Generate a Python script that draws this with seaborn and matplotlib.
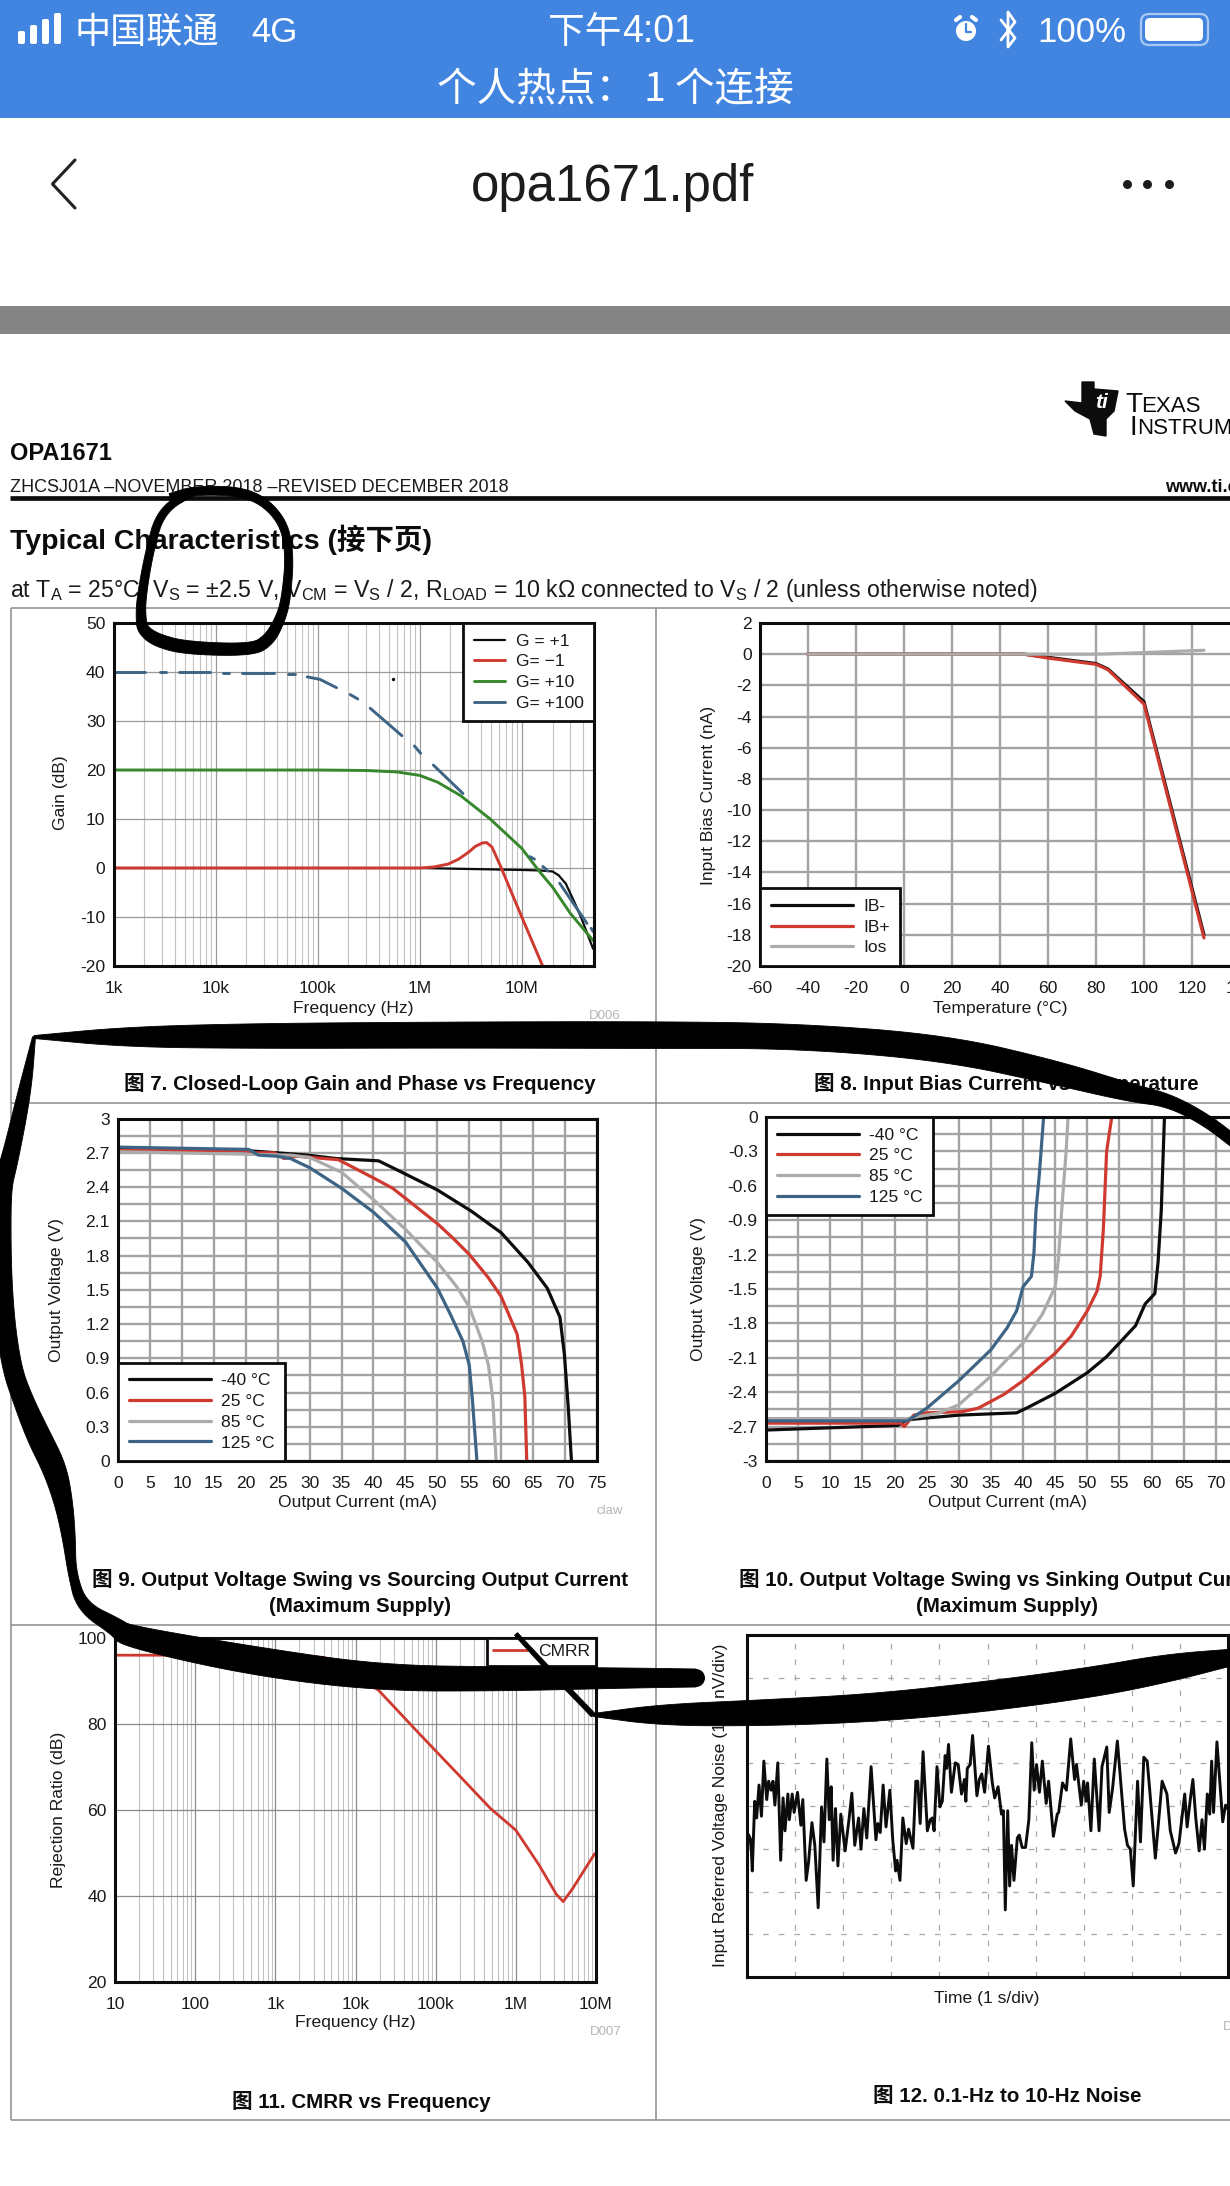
import numpy as np
import pandas as pd
import matplotlib
matplotlib.use("Agg")
import matplotlib.pyplot as plt
from matplotlib.patches import Circle, FancyBboxPatch, Rectangle
import seaborn as sns

# ---------- data: fig 7 ----------
F7_G1_F = [1e3, 1e4, 1e5, 1e6, 3e6, 1e7, 1.5e7, 2e7, 2.3e7, 2.7e7, 3.2e7, 3.8e7, 4.4e7, 5e7]
F7_G1_V = [0, 0, 0, 0, -0.2, -0.4, -0.5, -0.7, -1.5, -3.2, -6.5, -10, -13.5, -16.5]
F7_GM1_F = [1e3, 1e4, 1e5, 1e6, 1.36e6, 1.9e6, 2.4e6, 3e6, 3.5e6, 4.1e6, 4.5e6, 5.1e6, 6.3e6, 8e6, 1e7, 1.6e7]
F7_GM1_V = [0, 0, 0, 0, 0.2, 0.8, 1.8, 3.2, 4.4, 5.1, 5.2, 4.3, 0, -5.2, -10, -20]
F7_G10_F = [1e3, 1e4, 1e5, 3e5, 6e5, 1e6, 1.5e6, 2.5e6, 4.9e6, 1e7, 1.5e7, 2e7, 3e7, 5e7]
F7_G10_V = [20, 20, 20, 19.9, 19.6, 18.9, 17.5, 14.8, 10, 4, -0.8, -3.9, -9.3, -14.8]
F7_G100_F = [1e3, 2.04e3, 2.84e3, 3.27e3, 4.36e3, 8.88e3, 1.18e4, 1.36e4, 1.81e4, 3.69e4, 5.14e4, 5.93e4,
             7.89e4, 1.05e5, 1.53e5, 2.08e5, 2.47e5, 3.27e5, 6.68e5, 8.88e5, 1.02e6, 1.36e6, 2.65e6,
             1.21e7, 1.33e7, 1.61e7, 1.8e7, 2.35e7, 4.35e7, 4.79e7, 5e7]
F7_G100_V = [40, 40, 39.9, 39.9, 39.9, 39.9, 39.8, 39.8, 39.8, 39.8, 39.5, 39.5,
             39.0, 38.5, 36.8, 35.4, 34.5, 32.6, 27, 24.9, 23.4, 21, 15.2,
             2.3, 1.8, 0.3, -0.6, -3.1, -11.3, -12.3, -13]
F7_G100_SEG = [0, 0, 1, 1, 2, 2, 3, 3, 4, 4, 5, 5,
               6, 6, 6, 7, 7, 8, 8, 9, 9, 10, 10,
               11, 11, 12, 12, 13, 13, 14, 14]
F7_LABELS = ["G = +1", "G= \u22121", "G= +10", "G= +100"]
F7_XT = [1e3, 1e4, 1e5, 1e6, 1e7]
F7_XL = ["1k", "10k", "100k", "1M", "10M"]
F7_YT = [-20, -10, 0, 10, 20, 30, 40, 50]
F7_DOT_F = [5.5e5]
F7_DOT_V = [38.5]

# ---------- data: fig 8 ----------
F8_T = [-40, 0, 50, 60, 80, 85, 100, 125]
F8_IBN = [0, 0, 0, -0.2, -0.6, -0.95, -3.05, -18]
F8_IBP = [0, 0, 0, -0.25, -0.65, -1.0, -3.2, -18.2]
F8_IOS = [0, 0, 0, 0, 0, 0.02, 0.1, 0.25]
F8_LABELS = ["IB-", "IB+", "Ios"]
F8_XT = [-60, -40, -20, 0, 20, 40, 60, 80, 100, 120, 140]
F8_YT = [2, 0, -2, -4, -6, -8, -10, -12, -14, -16, -18, -20]

# ---------- data: fig 9 ----------
F9_M40_I = [0, 20, 25, 29.6, 34.2, 40.8, 43.5, 50, 55.3, 60, 64.2, 67.2, 69.2, 69.9, 70.5, 71]
F9_M40_V = [2.74, 2.72, 2.70, 2.68, 2.65, 2.63, 2.556, 2.375, 2.19, 2.0, 1.74, 1.515, 1.26, 0.93, 0.47, 0]
F9_25_I = [0, 20, 21, 24.5, 26, 28, 34.5, 40, 43, 45.5, 50, 52.5, 55, 58, 60, 62.5, 63.2, 63.7, 64]
F9_25_V = [2.72, 2.72, 2.70, 2.70, 2.65, 2.67, 2.64, 2.48, 2.39, 2.28, 2.08, 1.95, 1.81, 1.605, 1.44, 1.11, 0.84, 0.565, 0]
F9_85_I = [0, 27, 30, 35, 40, 45, 50, 53, 55, 57, 58, 58.7, 59.2]
F9_85_V = [2.71, 2.68, 2.66, 2.53, 2.29, 2.03, 1.74, 1.53, 1.35, 1.05, 0.84, 0.53, 0]
F9_125_I = [0, 20.5, 22, 25, 27, 30, 35, 40, 45, 50, 52, 54, 55, 55.5, 56.2]
F9_125_V = [2.75, 2.73, 2.68, 2.67, 2.65, 2.57, 2.39, 2.18, 1.92, 1.515, 1.29, 1.05, 0.84, 0.53, 0]
TEMP_LABELS = ["-40 \u00b0C", "25 \u00b0C", "85 \u00b0C", "125 \u00b0C"]
F9_XT = list(range(0, 80, 5))
F9_YT = [0, 0.3, 0.6, 0.9, 1.2, 1.5, 1.8, 2.1, 2.4, 2.7, 3]
F9_YL = ["0", "0.3", "0.6", "0.9", "1.2", "1.5", "1.8", "2.1", "2.4", "2.7", "3"]
F9_YM = [0.15, 0.45, 0.75, 1.05, 1.35, 1.65, 1.95, 2.25, 2.55, 2.85]

# ---------- data: fig 10 ----------
F10_M40_I = [0, 20.5, 22, 30, 39, 40.5, 45, 50, 53, 55, 57.5, 59, 60.5, 61, 61.5, 62]
F10_M40_V = [-2.73, -2.69, -2.64, -2.6, -2.58, -2.54, -2.41, -2.23, -2.09, -1.97, -1.82, -1.63, -1.54, -1.27, -0.82, 0]
F10_25_I = [0, 21, 21.5, 23, 25, 30.5, 33, 37, 40, 45, 47.5, 50, 51.5, 52, 52.5, 53, 53.8]
F10_25_V = [-2.67, -2.67, -2.70, -2.6, -2.58, -2.57, -2.54, -2.42, -2.3, -2.06, -1.91, -1.69, -1.52, -1.39, -0.97, -0.3, 0]
F10_85_I = [0, 22, 27, 30, 35, 40, 43, 45, 45.5, 46, 46.7, 47]
F10_85_V = [-2.63, -2.63, -2.58, -2.51, -2.26, -1.97, -1.72, -1.48, -1.24, -0.82, -0.3, 0]
F10_125_I = [0, 22, 25, 30, 35, 37.5, 39, 40, 41.3, 41.7, 42, 42.5, 43.2]
F10_125_V = [-2.65, -2.65, -2.54, -2.3, -2.03, -1.84, -1.69, -1.48, -1.39, -1.18, -0.82, -0.52, 0]
F10_YT = [0, -0.3, -0.6, -0.9, -1.2, -1.5, -1.8, -2.1, -2.4, -2.7, -3]
F10_YL = ["0", "-0.3", "-0.6", "-0.9", "-1.2", "-1.5", "-1.8", "-2.1", "-2.4", "-2.7", "-3"]
F10_YM = [-0.15, -0.45, -0.75, -1.05, -1.35, -1.65, -1.95, -2.25, -2.55, -2.85]

# ---------- data: fig 11 ----------
F11_F = [10, 100, 1e3, 4e3, 8e3, 1.95e4, 6.5e4, 1.95e5, 4.8e5, 1e6, 1.95e6, 3.2e6, 3.9e6, 5.1e6, 9.6e6, 1e7]
F11_R = [96, 96, 96, 95.5, 93, 87.8, 77.4, 68.1, 60.4, 55.3, 47.2, 40.4, 38.7, 41.7, 49.8, 50]
F11_XT = [10, 100, 1e3, 1e4, 1e5, 1e6, 1e7]
F11_XL = ["10", "100", "1k", "10k", "100k", "1M", "10M"]
F11_YT = [20, 40, 60, 80, 100]

# ---------- data: fig 12 ----------
F12_T = [0.00,0.03,0.08,0.11,0.16,0.20,0.25,0.30,0.35,0.41,0.45,0.50,0.54,0.58,0.64,0.70,0.75,0.79,0.85,0.88,
         0.94,0.98,1.05,1.12,1.16,1.23,1.28,1.35,1.41,1.48,1.55,1.60,1.66,1.71,1.75,1.79,1.84,1.89,1.95,2.04,
         2.12,2.18,2.24,2.32,2.37,2.43,2.49,2.58,2.68,2.72,2.77,2.83,2.89,2.97,3.03,3.09,3.12,3.18,3.24,3.31,
         3.36,3.45,3.51,3.55,3.60,3.66,3.75,3.81,3.85,3.89,3.95,4.01,4.06,4.12,4.15,4.19,4.25,4.33,4.39,4.46,
         4.52,4.55,4.58,4.64,4.69,4.78,4.83,4.88,4.94,5.02,5.10,5.15,5.22,5.29,5.33,5.37,5.42,5.46,5.50,5.55,
         5.62,5.66,5.72,5.79,5.86,5.92,5.97,6.02,6.08,6.14,6.22,6.27,6.37,6.45,6.48,6.56,6.64,6.73,6.81,6.85,
         6.95,7.00,7.05,7.08,7.15,7.22,7.32,7.38,7.48,7.53,7.60,7.70,7.85,7.91,7.97,8.03,8.12,8.18,8.25,8.32,
         8.37,8.49,8.63,8.73,8.80,8.91,8.98,9.10,9.15,9.22,9.27,9.33,9.40,9.46,9.51,9.57,9.62,9.66,9.70,9.77,
         9.89,9.95,9.99]
F12_V = [-1.27,-0.67,-0.79,-1.52,0.11,-0.28,0.49,-0.24,1.05,0.15,0.58,0.37,0.58,0.02,1.01,-1.27,0.19,-0.58,0.28,-0.32,
         0.28,-0.15,0.32,-0.45,0.15,-1.74,-1.31,-0.39,-0.92,-2.38,-0.02,-0.84,1.10,-0.32,0.45,-1.27,-0.06,-1.40,-0.19,-1.05,
         -0.32,0.30,-0.92,-0.28,-1.01,-0.06,-0.75,0.92,-0.79,-0.41,-0.62,0.49,-0.49,0.37,-0.79,-1.52,-1.27,-1.74,-0.28,-0.88,
         -0.54,-0.99,0.58,0.58,-0.41,1.27,-0.58,-0.32,-0.28,-0.58,0.92,-0.02,0.11,1.18,0.88,1.44,0.32,1.01,0.97,0.28,
         0.62,0.11,0.88,0.97,1.65,0.24,0.62,0.75,0.32,1.40,0.54,0.19,0.45,-0.19,-0.11,-2.43,-0.11,-1.87,-0.92,-1.74,
         -0.75,-0.68,-0.97,-0.97,-0.32,1.48,0.37,0.97,0.32,1.05,0.06,0.58,-0.71,-0.19,-0.15,0.54,0.37,1.57,0.62,0.97,
         0.02,0.58,0.11,0.54,-0.58,1.10,-0.58,0.92,1.38,-0.15,0.41,1.52,-0.54,-0.92,-1.01,-1.87,0.58,-0.84,1.14,1.05,
         0.41,-1.22,0.58,0.28,-0.58,-1.10,-0.88,0.28,-0.49,0.19,0.62,-0.28,-1.05,-0.32,-1.01,0.28,-0.19,1.05,-0.15,1.50,
         -0.37,0.02,-0.06]
F12_XT = [1, 2, 3, 4, 5, 6, 7, 8, 9]
F12_YT = [-3, -2, -1, 0, 1, 2, 3]

# ---------- hand-drawn pen strokes and page rules (page pixels) ----------
LOOP_X = [196, 161, 149, 141, 141, 143, 156, 185, 252, 269, 280, 286, 290, 282, 251, 196, 170]
LOOP_Y = [490, 510, 553, 600, 620, 630, 640, 648, 650, 640, 620, 600, 553, 518, 492, 490, 497]
LOOP_W = [7, 8, 8, 9, 10, 11, 13, 13, 12, 12, 10, 9, 8, 8, 9, 9, 7]
TOP_X = [34, 126, 252, 450, 650, 798, 946, 1057, 1131, 1168, 1205, 1240]
TOP_Y = [1037, 1037, 1036, 1035, 1035, 1036, 1048, 1073, 1093, 1100, 1119, 1146]
TOP_W = [3, 20, 25, 26, 27, 25, 26, 24, 18, 13, 12, 12]
LEFT_X = [34, 25, 10, 0, 2, 11, 23, 38, 55, 64, 69, 72, 82, 118, 126, 252, 379, 505, 631, 696]
LEFT_Y = [1037, 1090, 1159, 1193, 1297, 1366, 1400, 1435, 1469, 1504, 1538, 1573, 1607, 1628, 1636, 1661, 1678, 1679, 1678, 1678]
LEFT_W = [3, 13, 17, 20, 20, 19, 20, 24, 24, 18, 13, 8, 12, 18, 22, 29, 26, 24, 20, 18]
THIN_X = [516, 551, 570, 593]
THIN_Y = [1634, 1672, 1691, 1715]
THIN_W = [4, 5, 5, 5]
LOWER_X = [593, 660, 761, 872, 983, 1094, 1168, 1240]
LOWER_Y = [1715, 1715, 1713, 1708, 1697, 1682, 1668, 1656]
LOWER_W = [3, 21, 26, 28, 30, 30, 28, 15]

BLUE = "#4285e0"
BLACK = "#0c0c0c"
RED = "#cf3a30"
GREEN = "#37872d"
STEEL = "#3d6485"
GREY = "#ababab"
LATIN = ["Liberation Sans", "Noto Sans CJK SC", "DejaVu Sans"]
CJK = ["Noto Sans CJK SC", "Liberation Sans", "DejaVu Sans"]
FS = 12.6

W, H = 1230, 2186
sns.set_theme(style="white", rc={"axes.unicode_minus": False, "mathtext.default": "regular"})
plt.rcParams["font.family"] = LATIN

fig = plt.figure(figsize=(W / 100, H / 100), dpi=100, facecolor="white")

page = fig.add_axes([0, 0, 1, 1], zorder=-1)
page.set_xlim(0, W)
page.set_ylim(H, 0)
page.axis("off")
pen = fig.add_axes([0, 0, 1, 1], zorder=10, facecolor="none")
pen.set_xlim(0, W)
pen.set_ylim(H, 0)
pen.axis("off")


def panel(l, t, r, b):
    ax = fig.add_axes([l / W, 1 - b / H, (r - l) / W, (b - t) / H], zorder=2)
    ax.set_facecolor("white")
    for s in ax.spines.values():
        s.set_color(BLACK)
        s.set_linewidth(2.2)
        s.set_visible(True)
    ax.set_axisbelow(True)
    ax.tick_params(which="both", length=0, labelsize=FS, colors="#1a1a1a")
    ax.tick_params(axis="x", pad=10.5)
    ax.tick_params(axis="y", pad=6)
    return ax, (l, t, r, b)


def labels(ax, box, xlabel, ylabel, xpos, ypos, size=FS):
    l, t, r, b = box
    ax.set_xlabel(xlabel, fontsize=size, color="#1a1a1a", va="center", ha="center")
    ax.set_ylabel(ylabel, fontsize=size, color="#1a1a1a", va="center", ha="center")
    ax.xaxis.set_label_coords((xpos[0] - l) / (r - l), (b - xpos[1]) / (b - t))
    ax.yaxis.set_label_coords((ypos[0] - l) / (r - l), (b - ypos[1]) / (b - t))


def long_table(names, xs, ys):
    return pd.concat(
        [pd.DataFrame({"x": x, "y": y, "series": n}) for n, x, y in zip(names, xs, ys)],
        ignore_index=True,
    )


def boxed_legend(ax, loc, hlen, sep=0.31, pad=0.6, htext=0.6, size=FS):
    h, lab = ax.get_legend_handles_labels()
    leg = ax.legend(h, lab, loc=loc, borderaxespad=0, frameon=True, fancybox=False, framealpha=1,
                    edgecolor=BLACK, facecolor="white", fontsize=size, handlelength=hlen,
                    labelspacing=sep, borderpad=pad, handletextpad=htext, title=None)
    leg.get_frame().set_linewidth(2.0)
    leg.set_zorder(6)
    for t in leg.get_texts():
        t.set_color("#1a1a1a")
    return leg


MINOR_LOG = dict(color="#c2c2c2", linewidth=0.8)
MAJOR_LOG = dict(color="#9a9a9a", linewidth=0.9)
GRID = dict(color="#a3a3a3", linewidth=1.7)

# ---------- figure 7 ----------
ax, box = panel(113.6, 623, 594, 966)
ax.set_xscale("log")
t7 = long_table(F7_LABELS[:3], [F7_G1_F, F7_GM1_F, F7_G10_F], [F7_G1_V, F7_GM1_V, F7_G10_V])
t7["seg"] = 0
t7b = pd.DataFrame({"x": F7_G100_F, "y": F7_G100_V, "series": F7_LABELS[3], "seg": F7_G100_SEG})
t7 = pd.concat([t7, t7b], ignore_index=True)
sns.lineplot(data=t7, x="x", y="y", hue="series", hue_order=F7_LABELS, units="seg", estimator=None, sort=False,
             palette=dict(zip(F7_LABELS, [BLACK, RED, GREEN, STEEL])), linewidth=2.1, ax=ax)
for ln in ax.get_lines():
    if ln.get_color() == BLACK:
        ln.set_linewidth(1.6)
sns.scatterplot(x=F7_DOT_F, y=F7_DOT_V, color=BLACK, s=6, linewidth=0, ax=ax, legend=False)
ax.set_xlim(1e3, 5.1e7)
ax.set_ylim(-20, 50)
ax.set_xticks(F7_XT, F7_XL)
ax.set_yticks(F7_YT, [str(v) for v in F7_YT])
ax.xaxis.set_minor_locator(matplotlib.ticker.LogLocator(base=10, subs=range(2, 10), numticks=20))
ax.xaxis.set_minor_formatter(matplotlib.ticker.NullFormatter())
ax.grid(True, which="major", **MAJOR_LOG)
ax.grid(True, which="minor", axis="x", **MINOR_LOG)
labels(ax, box, "Frequency (Hz)", "Gain (dB)", (353, 1008), (61, 793))
boxed_legend(ax, "upper right", 1.8)

# ---------- figure 8 ----------
ax, box = panel(760, 623, 1240, 966)
t8 = long_table(F8_LABELS, [F8_T] * 3, [F8_IBN, F8_IBP, F8_IOS])
sns.lineplot(data=t8, x="x", y="y", hue="series", hue_order=F8_LABELS, estimator=None, sort=False,
             palette=dict(zip(F8_LABELS, [BLACK, RED, GREY])), linewidth=2.3, ax=ax)
ax.set_xlim(-60, 140)
ax.set_ylim(-20, 2)
ax.set_xticks(F8_XT, [str(v) for v in F8_XT])
ax.set_yticks(F8_YT, [str(v) for v in F8_YT])
ax.grid(True, which="major", **GRID)
labels(ax, box, "Temperature (\u00b0C)", "Input Bias Current (nA)", (1000, 1008), (708, 795))
boxed_legend(ax, "lower left", 4.7)

# ---------- figure 9 ----------
ax, box = panel(118, 1118.6, 597, 1461)
t9 = long_table(TEMP_LABELS, [F9_M40_I, F9_25_I, F9_85_I, F9_125_I], [F9_M40_V, F9_25_V, F9_85_V, F9_125_V])
TEMP_PAL = dict(zip(TEMP_LABELS, [BLACK, RED, GREY, STEEL]))
sns.lineplot(data=t9, x="x", y="y", hue="series", hue_order=TEMP_LABELS, estimator=None, sort=False,
             palette=TEMP_PAL, linewidth=2.3, ax=ax)
ax.set_xlim(0, 75)
ax.set_ylim(0, 3)
ax.set_xticks(F9_XT, [str(v) for v in F9_XT])
ax.set_yticks(F9_YT, F9_YL)
ax.set_yticks(F9_YM, minor=True)
ax.grid(True, which="both", **GRID)
labels(ax, box, "Output Current (mA)", "Output Voltage (V)", (357, 1503), (57, 1290))
boxed_legend(ax, "lower left", 4.7)

# ---------- figure 10 ----------
ax, box = panel(766, 1117, 1248, 1461)
t10 = long_table(TEMP_LABELS, [F10_M40_I, F10_25_I, F10_85_I, F10_125_I], [F10_M40_V, F10_25_V, F10_85_V, F10_125_V])
sns.lineplot(data=t10, x="x", y="y", hue="series", hue_order=TEMP_LABELS, estimator=None, sort=False,
             palette=TEMP_PAL, linewidth=2.3, ax=ax)
ax.set_xlim(0, 75)
ax.set_ylim(-3, 0)
ax.set_xticks(F9_XT, [str(v) for v in F9_XT])
ax.set_yticks(F10_YT, F10_YL)
ax.set_yticks(F10_YM, minor=True)
ax.grid(True, which="both", **GRID)
labels(ax, box, "Output Current (mA)", "Output Voltage (V)", (1007, 1503), (698, 1289))
boxed_legend(ax, "upper left", 4.7)

# ---------- figure 11 ----------
ax, box = panel(115, 1638, 596, 1982)
ax.set_xscale("log")
t11 = pd.DataFrame({"x": F11_F, "y": F11_R, "series": "CMRR"})
sns.lineplot(data=t11, x="x", y="y", hue="series", palette={"CMRR": RED}, estimator=None, sort=False,
             linewidth=2.0, ax=ax)
ax.set_xlim(10, 1e7)
ax.set_ylim(20, 100)
ax.set_xticks(F11_XT, F11_XL)
ax.set_yticks(F11_YT, [str(v) for v in F11_YT])
ax.xaxis.set_minor_locator(matplotlib.ticker.LogLocator(base=10, subs=range(2, 10), numticks=20))
ax.xaxis.set_minor_formatter(matplotlib.ticker.NullFormatter())
ax.grid(True, which="major", color="#8a8a8a", linewidth=0.9)
ax.grid(True, which="minor", axis="x", **MINOR_LOG)
labels(ax, box, "Frequency (Hz)", "Rejection Ratio (dB)", (355, 2023), (58, 1810))
boxed_legend(ax, "upper right", 1.95, pad=0.35)

# ---------- figure 12 ----------
ax, box = panel(747, 1635, 1228, 1977)
t12 = pd.DataFrame({"x": F12_T, "y": F12_V})
sns.lineplot(data=t12, x="x", y="y", color=BLACK, estimator=None, sort=False, linewidth=2.1, ax=ax)
ax.set_xlim(0, 10)
ax.set_ylim(-4, 4)
ax.set_xticks(F12_XT, [""] * len(F12_XT))
ax.set_yticks(F12_YT, [""] * len(F12_YT))
ax.grid(True, which="major", color="#a8a8a8", linewidth=0.9, linestyle=(0, (4.5, 8)))
labels(ax, box, "Time (1 s/div)", "Input Referred Voltage Noise (100 nV/div)", (987, 1998), (720, 1805))

# ---------- page furniture ----------
page.add_patch(Rectangle((0, 0), W, 118, facecolor=BLUE, edgecolor="none"))
page.add_patch(Rectangle((0, 306), W, 28, facecolor="#848484", edgecolor="none"))

for x0, hgt in zip([18, 30, 42, 54], [13, 19, 25, 31]):
    page.add_patch(FancyBboxPatch((x0, 44 - hgt), 7, hgt, boxstyle="round,pad=0,rounding_size=2",
                                  facecolor="white", edgecolor="none"))
page.text(147, 33, "\u4e2d\u56fd\u8054\u901a", color="white", fontsize=26, ha="center", va="center", family=CJK)
page.text(274, 32, "4G", color="white", fontsize=25, ha="center", va="center", family=LATIN)
page.text(622, 33, "\u4e0b\u5348", color="white", fontsize=26.5, ha="right", va="center", family=CJK)
page.text(622, 32, "4:01", color="white", fontsize=27, ha="left", va="center", family=LATIN)
page.text(615, 90, "\u4e2a\u4eba\u70ed\u70b9\uff1a 1 \u4e2a\u8fde\u63a5", color="white", fontsize=28.5,
          ha="center", va="center", family=CJK)
page.add_patch(Circle((966, 31), 10, facecolor="white", edgecolor="none"))
page.plot([966, 966, 971], [24, 32, 32], color=BLUE, lw=1.6)
page.plot([956, 960], [20, 17], color="white", lw=3)
page.plot([976, 972], [20, 17], color="white", lw=3)
page.plot([1001, 1015, 1008, 1008, 1015, 1001], [20, 38, 47, 12, 22, 40], color="white", lw=2)
page.text(1082, 32, "100%", color="white", fontsize=25, ha="center", va="center", family=LATIN)
page.add_patch(FancyBboxPatch((1141, 14), 67, 31, boxstyle="round,pad=0,rounding_size=8",
                              facecolor="none", edgecolor="#a9c8f2", linewidth=1.6))
page.add_patch(FancyBboxPatch((1145, 18), 58, 23, boxstyle="round,pad=0,rounding_size=5",
                              facecolor="white", edgecolor="none"))

page.plot([75, 52.5, 75], [160, 184, 208], color="#222222", lw=2.2)
page.text(613, 187, "opa1671.pdf", color="#1c1c1c", fontsize=36.7, ha="center", va="center", family=LATIN)
page.scatter([1127, 1147, 1169], [184, 184, 184], s=42, color="#1c1c1c", linewidth=0)

LOGO_X = [1065, 1082, 1082, 1094, 1094, 1118, 1114, 1106, 1106, 1094, 1090, 1075]
LOGO_Y = [401, 403, 382, 382, 389, 391, 411, 419, 436, 434, 419, 411]
page.fill(LOGO_X, LOGO_Y, color=BLACK)
page.text(1101, 403, "ti", color="white", fontsize=15, style="italic", weight="bold", ha="center", va="center")
page.text(1125, 405, "T", color=BLACK, fontsize=20, ha="left", va="center")
page.text(1141, 406, "EXAS", color=BLACK, fontsize=16, ha="left", va="center")
page.text(1129, 428, "I", color=BLACK, fontsize=20, ha="left", va="center")
page.text(1137, 429, "NSTRUMENTS", color=BLACK, fontsize=16, ha="left", va="center")

page.text(10, 454, "OPA1671", color=BLACK, fontsize=17, weight="bold", ha="left", va="center")
page.text(10, 487, "ZHCSJ01A \u2013NOVEMBER 2018 \u2013REVISED DECEMBER 2018", color="#1a1a1a", fontsize=13,
          ha="left", va="center")
page.text(1165, 487, "www.ti.com", color=BLACK, fontsize=13, weight="bold", ha="left", va="center")
page.plot([10, W], [498, 498], color=BLACK, lw=3.4, solid_capstyle="butt")
page.text(10, 540, "Typical Characteristics (\u63a5\u4e0b\u9875)", color=BLACK, fontsize=20.5, weight="bold",
          ha="left", va="center")
page.text(10, 591, r"at T$_{A}$ = 25$\degree$C, V$_{S}$ = $\pm$2.5 V, V$_{CM}$ = V$_{S}$ / 2, R$_{LOAD}$ = 10 k$\Omega$ "
          r"connected to V$_{S}$ / 2 (unless otherwise noted)", color="#1a1a1a", fontsize=16.7, ha="left", va="center")

RULE_Y = [608, 1103, 1625, 2120]
for y in RULE_Y:
    page.plot([10.5, W], [y, y], color="#8a8a8a", lw=1.1, solid_capstyle="butt")
for x in [10.5, 656]:
    page.plot([x, x], [608, 2120], color="#8a8a8a", lw=1.1, solid_capstyle="butt")

CAP = 14.8
page.text(360, 1084, "\u56fe 7. Closed-Loop Gain and Phase vs Frequency", color=BLACK, fontsize=CAP, weight="bold",
          ha="center", va="center")
page.text(1006, 1084, "\u56fe 8. Input Bias Current vs Temperature", color=BLACK, fontsize=CAP, weight="bold",
          ha="center", va="center")
page.text(360, 1580, "\u56fe 9. Output Voltage Swing vs Sourcing Output Current", color=BLACK, fontsize=CAP,
          weight="bold", ha="center", va="center")
page.text(360, 1606, "(Maximum Supply)", color=BLACK, fontsize=CAP, weight="bold", ha="center", va="center")
page.text(739, 1580, "\u56fe 10. Output Voltage Swing vs Sinking Output Current", color=BLACK, fontsize=CAP,
          weight="bold", ha="left", va="center")
page.text(1007, 1606, "(Maximum Supply)", color=BLACK, fontsize=CAP, weight="bold", ha="center", va="center")
page.text(361, 2101, "\u56fe 11. CMRR vs Frequency", color=BLACK, fontsize=CAP, weight="bold", ha="center", va="center")
page.text(1007, 2096, "\u56fe 12. 0.1-Hz to 10-Hz Noise", color=BLACK, fontsize=CAP, weight="bold", ha="center",
          va="center")
for x, y, s, ha in [(605, 1016, "D006", "center"), (610, 1511, "claw", "center"), (606, 2032, "D007", "center"),
                    (1223, 2027, "D008", "left")]:
    page.text(x, y, s, color="#b4b4b4", fontsize=9.5, ha=ha, va="center")


# ---------- pen strokes ----------
def chaikin(a, n=3):
    a = np.asarray(a, dtype=float)
    for _ in range(n):
        q = 0.75 * a[:-1] + 0.25 * a[1:]
        r = 0.25 * a[:-1] + 0.75 * a[1:]
        m = np.empty((q.shape[0] * 2,) + a.shape[1:])
        m[0::2] = q
        m[1::2] = r
        a = np.concatenate([a[:1], m, a[-1:]])
    return a


def stroke(xs, ys, ws, round_end=False):
    pts = chaikin(np.column_stack([xs, ys, ws]))
    x, y, w = pts[:, 0], pts[:, 1], pts[:, 2]
    dx, dy = np.gradient(x), np.gradient(y)
    n = np.hypot(dx, dy) + 1e-9
    nx, ny = -dy / n, dx / n
    px = np.r_[x + nx * w / 2, (x - nx * w / 2)[::-1]]
    py = np.r_[y + ny * w / 2, (y - ny * w / 2)[::-1]]
    pen.fill(px, py, color="black", linewidth=0.6, joinstyle="round")
    if round_end:
        pen.add_patch(Circle((x[-1], y[-1]), w[-1] / 2, color="black", linewidth=0))


stroke(LOOP_X, LOOP_Y, LOOP_W)
stroke(TOP_X, TOP_Y, TOP_W)
stroke(LEFT_X, LEFT_Y, LEFT_W, round_end=True)
stroke(THIN_X, THIN_Y, THIN_W)
stroke(LOWER_X, LOWER_Y, LOWER_W)

fig.savefig("out.png", dpi=100, facecolor="white")
